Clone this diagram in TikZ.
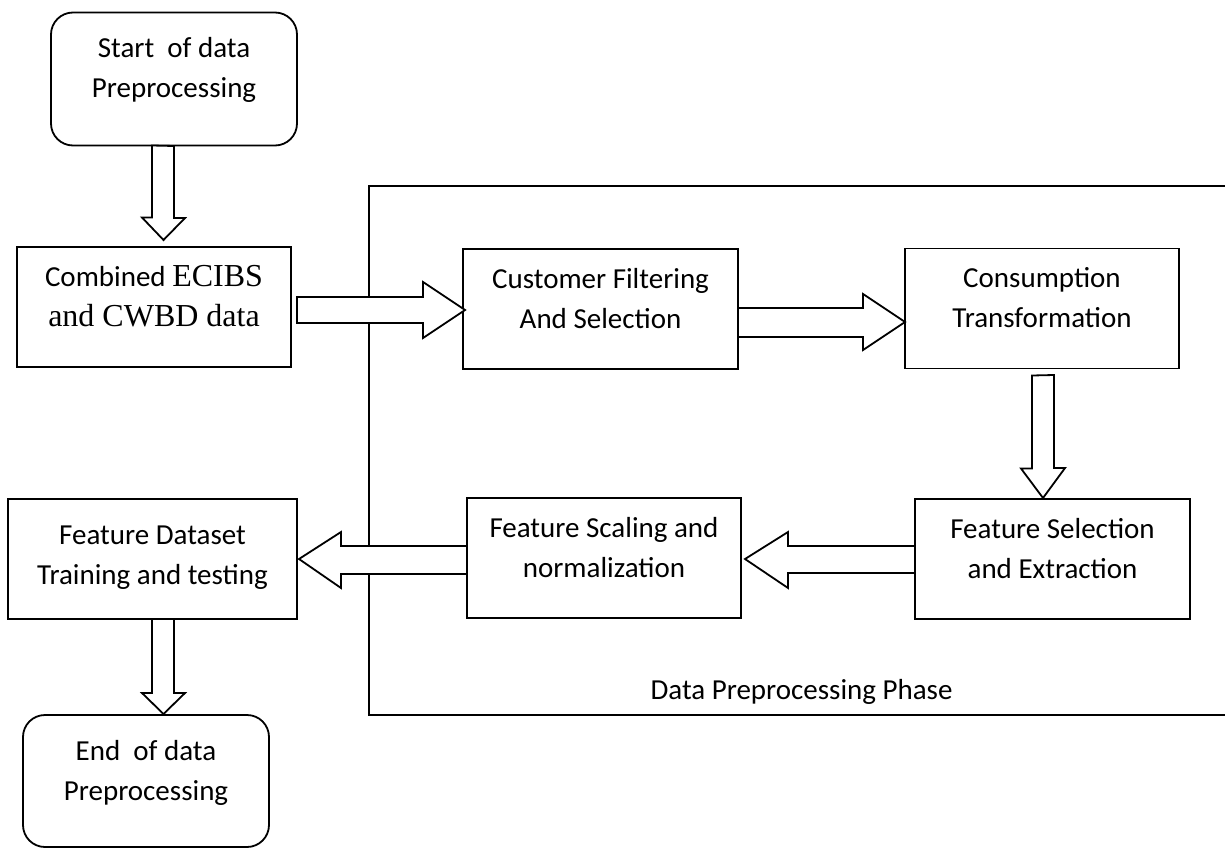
\documentclass[tikz,border=0pt]{standalone}
\usepackage{fontspec}
\setmainfont{Carlito}
\newfontfamily\timesfont{Liberation Serif}
\usepackage{tikz}
\usetikzlibrary{calc}

\newcommand{\serifpart}[1]{{\timesfont\fontsize{32}{40}\selectfont #1}}

\tikzset{
  procbox/.style={draw, line width=1.8pt, outer sep=0pt, inner xsep=0pt, minimum width=275pt, minimum height=120pt,
    text width=260pt, align=flush center, text height=20pt, text depth=62pt, font=\fontsize{29}{40}\selectfont},
  termbox/.style={procbox, rounded corners=22pt, text width=240pt, minimum width=246pt, minimum height=133pt},
  barrow/.style={draw, fill=white, line width=1.8pt, line join=miter},
}

\begin{document}
\begin{tikzpicture} [x=1pt, y=-1pt]
  \useasboundingbox (0,0) rectangle (1225,848);
  \def\lw{1.8pt};

  % boxes
  \node[termbox] (start) at (174,79) {Start\ \ of data\\Preprocessing};
  \node[procbox, minimum width=274pt] (comb) at (154,307) {Combined \serifpart{ECIBS}\\\serifpart{and CWBD data}};
  \node[procbox] (cust) at (600.5,309) {Customer Filtering\\And Selection};
  \node[procbox, minimum width=274pt] (cons) at (1042,308.5) {Consumption\\Transformation};
  \node[procbox] (fsel) at (1052.5,559) {Feature Selection\\and Extraction};
  \node[procbox, minimum width=274pt] (fscal) at (604,558) {Feature Scaling and\\normalization};
  \node[procbox, minimum width=289pt, text depth=50pt] (fdata) at (152.5,559) {Feature Dataset\\Training and testing};
  \node[termbox, minimum height=132pt] (end) at (146,781) {End\ \ of data\\Preprocessing};

  \draw[line width=\lw] (1225,186) -- (369,186) -- (369,715) -- (1225,715); %phase frame%
  \node[anchor=base west, font=\fontsize{29}{40}\selectfont] (phase) at (647,699) {Data Preprocessing Phase};

  % block arrows
  \draw[barrow] ($(start.south)+(-22,0)$) -- ++(0,72) -- ++(-10,0) -- ($(comb.north)+(9.5,-7)$) -- ++(21.5,-22) -- ++(-11,0) -- ++(0,-72) -- cycle;
  \draw[barrow] ($(comb.east)+(6,-10)$) -- ++(126,0) -- ++(0,-15) -- ($(cust.west)+(2,1)$) -- ++(-42,28) -- ++(0,-15) -- ++(-126,0) -- cycle;
  \draw[barrow] ($(cust.east)+(0,-1)$) -- ++(125,0) -- ++(0,-14) -- ($(cons.west)+(0,13.5)$) -- ++(-42,28) -- ++(0,-13) -- ++(-125,0) -- cycle;
  \draw[barrow] ($(cons.south)+(-10,7)$) -- ++(0,93) -- ++(-11,0) -- ($(fsel.north)+(-9.5,-1)$) -- ++(22,-30) -- ++(-11,0) -- ++(0,-93) -- cycle;
  \draw[barrow] ($(fsel.west)+(0,-13)$) -- ++(-127,0) -- ++(0,-14) -- ($(fscal.east)+(4,1)$) -- ++(43,29) -- ++(0,-15) -- ++(127,0) -- cycle;
  \draw[barrow] ($(fscal.west)+(0,-12)$) -- ++(-126,0) -- ++(0,-14) -- ($(fdata.east)+(2,0)$) -- ++(42,29) -- ++(0,-14) -- ++(126,0) -- cycle;
  \draw[barrow] ($(fdata.south)+(-0.5,0)$) -- ++(0,74) -- ++(-10,0) -- ($(end.north)+(17.5,-1)$) -- ++(21.5,-21) -- ++(-11,0) -- ++(0,-74) -- cycle;
\end{tikzpicture}
\end{document}
